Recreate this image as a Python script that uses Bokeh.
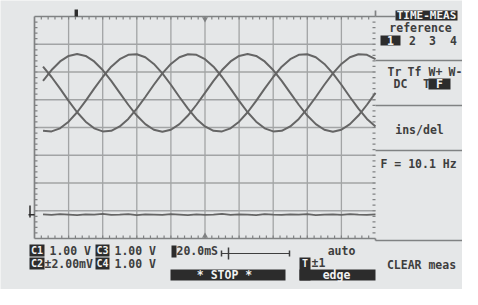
from bokeh.plotting import figure
from bokeh.models import Range1d, Label
from bokeh.embed import file_html
from bokeh.resources import INLINE

# ---------------- data ----------------
time_ms = [5, 10, 15, 20, 25, 30, 35, 40, 45, 50, 55, 60, 65, 70, 75, 80, 85, 90, 95, 100,
           105, 110, 115, 120, 125, 130, 135, 140, 145, 150, 155, 160, 165, 170, 175, 180, 185, 190, 195, 200]
ch1_div = [5.68, 6.07, 6.38, 6.58, 6.65, 6.58, 6.38, 6.07, 5.68, 5.25, 4.82, 4.43, 4.12, 3.92, 3.85, 3.92, 4.12, 4.43, 4.82, 5.25,
           5.68, 6.07, 6.38, 6.58, 6.65, 6.58, 6.38, 6.07, 5.68, 5.25, 4.82, 4.43, 4.12, 3.92, 3.85, 3.92, 4.12, 4.43, 4.82, 5.25]
ch3_div = [3.88, 3.86, 3.97, 4.21, 4.55, 4.96, 5.40, 5.82, 6.19, 6.46, 6.62, 6.64, 6.53, 6.29, 5.95, 5.54, 5.10, 4.68, 4.31, 4.04,
           3.88, 3.86, 3.97, 4.21, 4.55, 4.96, 5.40, 5.82, 6.19, 6.46, 6.62, 6.64, 6.53, 6.29, 5.95, 5.54, 5.10, 4.68, 4.31, 4.04]
ch4_div = [6.19, 5.82, 5.40, 4.96, 4.55, 4.21, 3.97, 3.86, 3.88, 4.04, 4.31, 4.68, 5.10, 5.54, 5.95, 6.29, 6.53, 6.64, 6.62, 6.46,
           6.19, 5.82, 5.40, 4.96, 4.55, 4.21, 3.97, 3.86, 3.88, 4.04, 4.31, 4.68, 5.10, 5.54, 5.95, 6.29, 6.53, 6.64, 6.62, 6.46]
ch2_div = [0.87, 0.85, 0.88, 0.86, 0.84, 0.87, 0.86, 0.89, 0.85, 0.86, 0.88, 0.84, 0.87, 0.86, 0.85, 0.88, 0.86, 0.84, 0.87, 0.85,
           0.86, 0.89, 0.85, 0.87, 0.86, 0.84, 0.88, 0.86, 0.85, 0.87, 0.86, 0.88, 0.84, 0.86, 0.87, 0.85, 0.88, 0.86, 0.85, 0.87]
grid_x_ms = [0, 20, 40, 60, 80, 100, 120, 140, 160, 180, 200]
grid_y_div = [0, 1, 2, 3, 4, 5, 6, 7, 8]
trigger_ms = 24.5
ch2_ground_div = 0.86

# ---------------- geometry helpers (window pixels -> data) ----------------
PX_MS = 34.1 / 20.0
PX_DIV = 27.75
def X(px):
    return (px - 42) / PX_MS
def Y(py):
    return (246 - py) / PX_DIV

BG = "#e5e7e8"
GRID = "#a2a4a5"
EDGE = "#808283"
TRACE = "#656565"
INK = "#3e3e3e"
DARK = "#2c2c2c"
FONT = "DejaVu Sans Mono"

p = figure(width=462, height=289, x_range=Range1d(X(8), X(470)), y_range=Range1d(Y(297), Y(8)),
           output_backend="svg", toolbar_location=None, min_border=0,
           x_axis_location=None, y_axis_location=None,
           background_fill_color=BG, border_fill_color=BG)
p.grid.visible = False
p.outline_line_color = None

# graticule
inner_x = grid_x_ms[1:-1]
inner_y = grid_y_div[1:-1]
p.segment(x0=inner_x, y0=grid_y_div[0], x1=inner_x, y1=grid_y_div[-1], line_color=GRID, line_width=1.3)
p.segment(x0=grid_x_ms[0], y0=inner_y, x1=grid_x_ms[-1], y1=inner_y, line_color=GRID, line_width=1.3)
# border
x0, x1 = grid_x_ms[0], grid_x_ms[-1]
y0, y1 = grid_y_div[0], grid_y_div[-1]
p.segment(x0=[x0, x1, x0, x0], y0=[y0, y0, y0, y1], x1=[x0, x1, x1, x1], y1=[y1, Y(248), y0, y1],
          line_color=EDGE, line_width=1.7)
# minor ticks on border
mt_x = [x0 + 4 * i for i in range(1, 50)]
mt_y = [y0 + 0.2 * i for i in range(1, 40)]
tl = 3.0
p.segment(x0=mt_x, y0=y1, x1=mt_x, y1=y1 - tl / PX_DIV, line_color=EDGE, line_width=1.2)
p.segment(x0=mt_x, y0=y0, x1=mt_x, y1=y0 + tl / PX_DIV, line_color=EDGE, line_width=1.2)
p.segment(x0=x0, y0=mt_y, x1=x0 + tl / PX_MS, y1=mt_y, line_color=EDGE, line_width=1.2)
p.segment(x0=x1, y0=mt_y, x1=x1 - tl / PX_MS, y1=mt_y, line_color=EDGE, line_width=1.2)

# traces
for ys in (ch1_div, ch3_div, ch4_div):
    p.line(time_ms, ys, line_color=TRACE, line_width=2.0)
p.line(time_ms, ch2_div, line_color=TRACE, line_width=1.7)

# markers: trigger position, screen centre, ground level
p.quad(left=trigger_ms - 1.0, right=trigger_ms + 1.0, top=Y(17), bottom=y1, fill_color=DARK, line_color=None)
p.scatter(x=[100], y=[y1 - 2.5 / PX_DIV], marker="inverted_triangle", size=6, fill_color=EDGE, line_color=None)
p.scatter(x=[100], y=[y0 + 2.5 / PX_DIV], marker="triangle", size=6, fill_color=EDGE, line_color=None)
p.segment(x0=X(36), y0=ch2_ground_div, x1=x0, y1=ch2_ground_div, line_color=DARK, line_width=1.5)
p.segment(x0=X(37.5), y0=Y(213), x1=X(37.5), y1=Y(225), line_color=DARK, line_width=1.5)

# right panel lines
p.segment(x0=X(383), y0=Y(24), x1=X(403), y1=Y(24), line_color=EDGE, line_width=1.7)
p.segment(x0=X(383), y0=Y(18), x1=X(383), y1=Y(24), line_color=EDGE, line_width=1.7)
seps = [Y(68), Y(113), Y(158), Y(248)]
p.segment(x0=X(383), y0=seps, x1=X(472), y1=seps, line_color=EDGE, line_width=1.5)

# dark boxes
boxes = [
    (403, 465, 18, 28),   # TIME-MEAS
    (388, 408, 43, 53),   # 1
    (436, 458, 86, 97),   # F
    (37, 52, 252, 264),   # C1
    (103, 117, 252, 264), # C3
    (37, 52, 265, 277),   # C2
    (103, 117, 265, 277), # C4
    (179, 184, 253, 265), # timebase marker
    (178, 293, 277, 288), # STOP
    (307, 318, 265, 288), # T
    (307, 383, 277, 288), # edge
]
p.quad(left=[X(b[0]) for b in boxes], right=[X(b[1]) for b in boxes],
       top=[Y(b[2]) for b in boxes], bottom=[Y(b[3]) for b in boxes],
       fill_color=DARK, line_color=None)

# timebase slider
p.segment(x0=X(229), y0=Y(261), x1=X(297), y1=Y(261), line_color=INK, line_width=1.2)
p.segment(x0=[X(229), X(236), X(297)], y0=[Y(258), Y(255), Y(258)],
          x1=[X(229), X(236), X(297)], y1=[Y(264), Y(267), Y(264)], line_color=INK, line_width=1.5)

def txt(x, y, s, align="left", color=INK, size="11.5px"):
    p.add_layout(Label(x=X(x), y=Y(y), text=s, text_align=align, text_baseline="middle",
                       text_color=color, text_font=FONT, text_font_size=size,
                       text_font_style="bold"))

W = "#f2f2f2"
txt(434, 23, "TIME-MEAS", "center", W, "11px")
txt(428, 35, "reference", "center")
txt(398, 48, "1", "center", W)
txt(420, 48, "2", "center")
txt(440, 48, "3", "center")
txt(461, 48, "4", "center")
txt(402, 79, "Tr", "center")
txt(422, 79, "Tf", "center")
txt(443, 79, "W+", "center")
txt(463, 79, "W-", "center")
txt(408, 91, "DC", "center")
txt(434, 91, "T", "center")
txt(447, 91, "F", "center", W)
txt(427, 137, "ins/del", "center")
txt(388, 171, "F = 10.1 Hz")
txt(429, 272, "CLEAR meas", "center")

txt(44.5, 258, "C1", "center", W, "10px")
txt(57, 258, "1.00 V")
txt(110, 258, "C3", "center", W, "10px")
txt(122, 258, "1.00 V")
txt(184, 258, "20.0mS")
txt(349, 258, "auto", "center")
txt(44.5, 271, "C2", "center", W, "10px")
txt(52, 271, "\u00b12.00mV")
txt(110, 271, "C4", "center", W, "10px")
txt(122, 271, "1.00 V")
txt(312.5, 270.5, "T", "center", W, "10px")
txt(319, 270.5, "\u00b11")
txt(232, 282.5, "* STOP *", "center", W)
txt(344, 282.5, "edge", "center", W)

open("out.html", "w").write(file_html(p, INLINE))
